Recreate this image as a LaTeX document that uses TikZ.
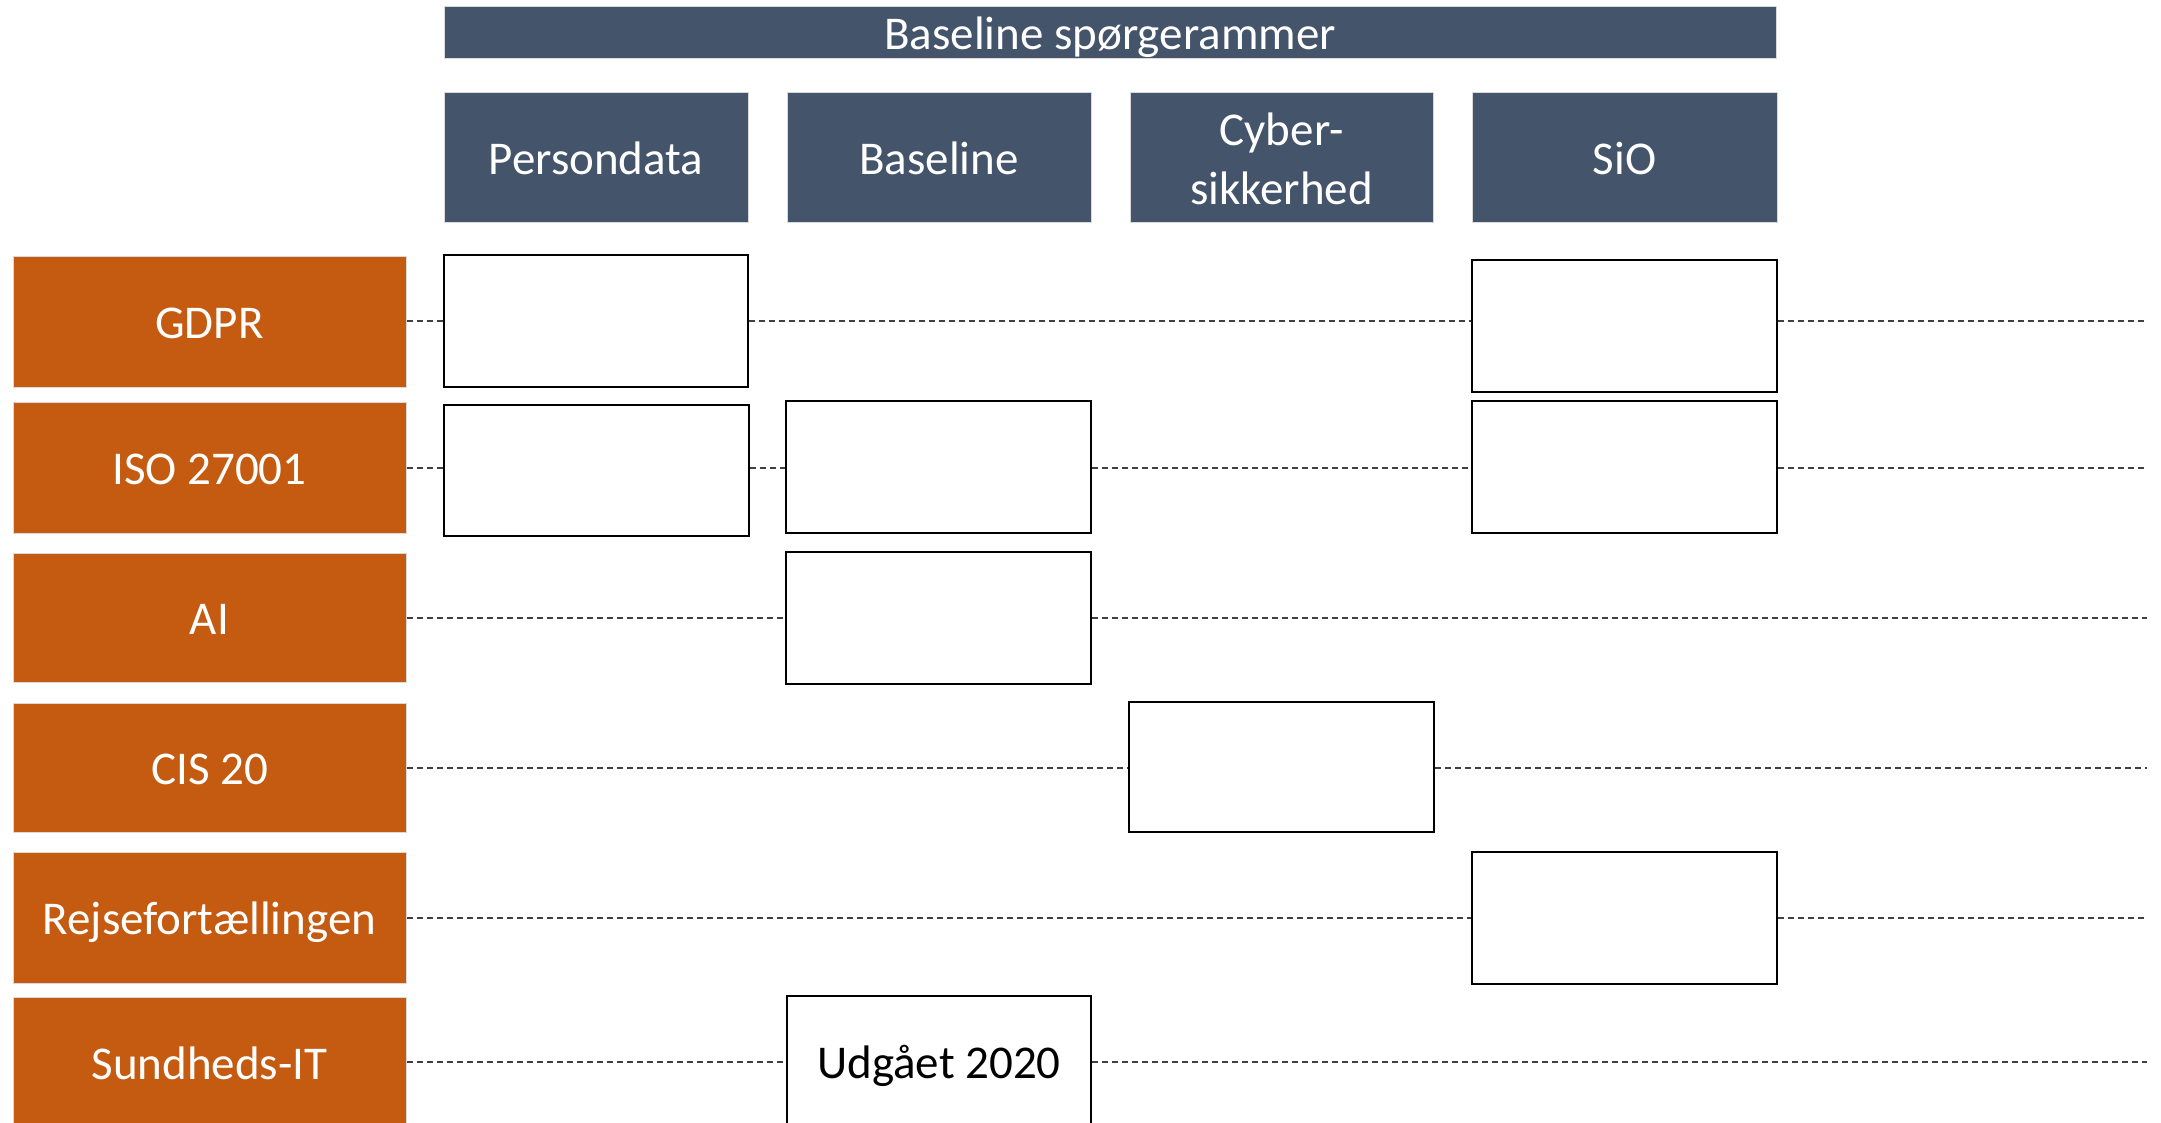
\documentclass[tikz,border=0pt]{standalone}
\usepackage{fontspec}
\setmainfont{Carlito}
\definecolor{hdrblue}{HTML}{44546A}
\definecolor{rowor}{HTML}{C55A11}
\definecolor{lineg}{HTML}{404040}
\definecolor{edgeg}{HTML}{D9D9D9}
\newcommand\mybox[7]{\node[#2, minimum width={(#5-#3)*0.5pt}, minimum height={(#6-#4)*0.5pt}] (#1) at ({(#3+#5)/2},{(#4+#6)/2}) {#7};}
\tikzset{
  basefont/.style={font=\fontsize{23.5}{29}\selectfont},
  fixv/.style={text height=19pt, text depth=2.5pt},
  hdr/.style={rectangle, fill=hdrblue, draw=edgeg, line width=0.5pt, text=white, inner sep=0pt, align=center, basefont},
  rowbox/.style={rectangle, fill=rowor, draw=edgeg, line width=0.5pt, text=white, inner sep=0pt, align=center, basefont, fixv},
  cell/.style={rectangle, fill=white, draw=black, line width=0.9pt, inner sep=0pt, align=center, basefont, fixv},
  dline/.style={draw=lineg, line width=0.75pt, dash pattern=on 3pt off 2pt}
}
\begin{document}
\begin{tikzpicture}[x=0.5pt,y=-0.5pt]
\useasboundingbox (0,0) rectangle (2161,1123);
\clip (0,0) rectangle (2161,1123);
% top bar and column headers
\mybox{top}{hdr, fixv}{444}{7}{1776}{59}{Baseline spørgerammer}
\mybox{hP}{hdr, fixv}{444}{93}{748}{223}{Persondata}
\mybox{hB}{hdr, fixv}{787}{93}{1091}{223}{Baseline}
\mybox{hC}{hdr, font=\fontsize{23.5}{29.5}\selectfont}{1130}{93}{1433}{223}{\begin{tabular}{@{}c@{}}\rule{0pt}{26pt}Cyber-\\sikkerhed\end{tabular}}
\mybox{hS}{hdr, fixv}{1472}{93}{1777}{223}{SiO}
% row labels
\mybox{gdpr}{rowbox}{13}{256}{406}{387}{GDPR}
\mybox{iso}{rowbox}{13}{402}{406}{533}{ISO 27001}
\mybox{ai}{rowbox}{13}{553}{406}{682}{AI}
\mybox{cis}{rowbox}{13}{703}{406}{832}{CIS 20}
\mybox{rej}{rowbox}{13}{852}{406}{983}{Rejsefortællingen}
\mybox{sund}{rowbox}{13}{997}{406}{1128}{Sundheds-IT}
% cells
\mybox{gP}{cell}{444}{255}{748}{387}{}
\mybox{gS}{cell}{1472}{260}{1777}{392}{}
\mybox{iP}{cell}{444}{405}{749}{536}{}
\mybox{iB}{cell}{786}{401}{1091}{533}{}
\mybox{iS}{cell}{1472}{401}{1777}{533}{}
\mybox{aB}{cell}{786}{552}{1091}{684}{}
\mybox{cC}{cell}{1129}{702}{1434}{832}{}
\mybox{rS}{cell}{1472}{852}{1777}{984}{}
\mybox{sB}{cell}{787}{996}{1091}{1128}{Udgået 2020}
% right free ends
\coordinate (gE) at (2147,321);
\coordinate (iE) at (2147,468);
\coordinate (aE) at (2147,618);
\coordinate (cE) at (2147,768);
\coordinate (rE) at (2147,918);
\coordinate (sE) at (2147,1062);
% dashed row lines
\draw[dline] (gdpr.east |- gE) -- (gP.west |- gE);
\draw[dline] (gP.east |- gE) -- (gS.west |- gE);
\draw[dline] (gS.east |- gE) -- (gE);
\draw[dline] (iso.east |- iE) -- (iP.west |- iE);
\draw[dline] (iP.east |- iE) -- (iB.west |- iE);
\draw[dline] (iB.east |- iE) -- (iS.west |- iE);
\draw[dline] (iS.east |- iE) -- (iE);
\draw[dline] (ai.east |- aE) -- (aB.west |- aE);
\draw[dline] (aB.east |- aE) -- (aE);
\draw[dline] (cis.east |- cE) -- (cC.west |- cE);
\draw[dline] (cC.east |- cE) -- (cE);
\draw[dline] (rej.east |- rE) -- (rS.west |- rE);
\draw[dline] (rS.east |- rE) -- (rE);
\draw[dline] (sund.east |- sE) -- (sB.west |- sE);
\draw[dline] (sB.east |- sE) -- (sE);
\end{tikzpicture}
\end{document}
